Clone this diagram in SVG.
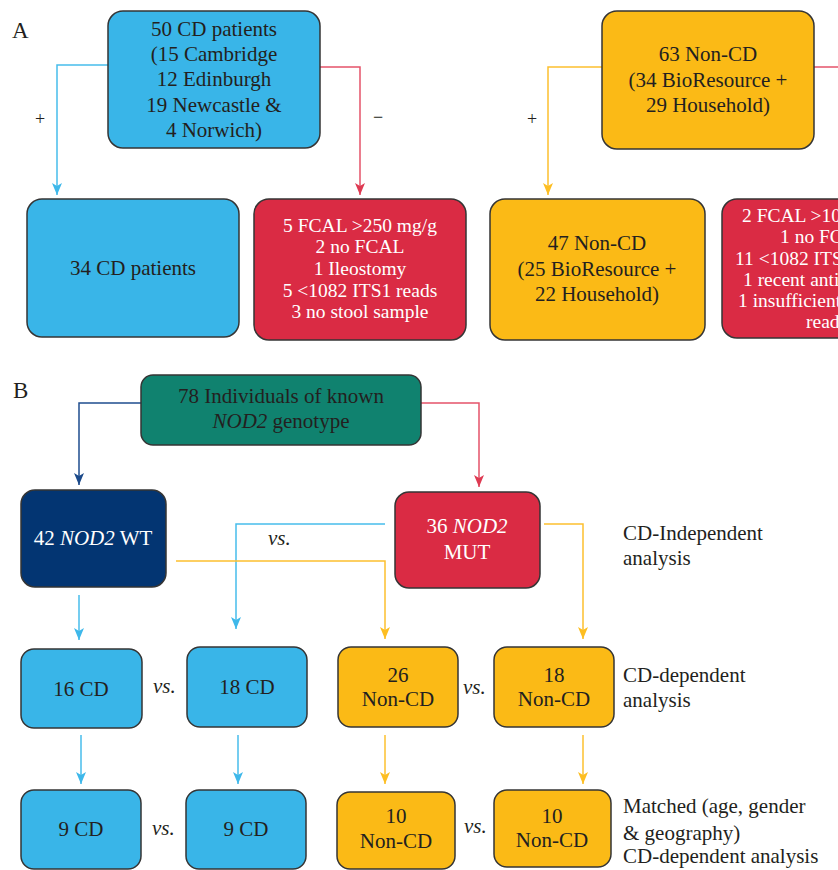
<svg xmlns="http://www.w3.org/2000/svg" width="838" height="870" viewBox="0 0 838 870">
<style>
text{font-family:"Liberation Serif","Times New Roman",serif;font-size:21px;fill:#231F20}
.c{text-anchor:middle}
.w{fill:#ffffff}
.s{font-size:19.5px}
.i{font-style:italic}
.box{stroke:#353535;stroke-width:1.5}
.cy{fill:#39B5E8}.ye{fill:#FBBA16}.rd{fill:#DA2B44}.nv{fill:#033572}.tl{fill:#10826F}
.ln{fill:none;stroke-width:1.5}
</style>
<defs>
<marker id="aC" markerUnits="userSpaceOnUse" markerWidth="12" markerHeight="10" refX="12" refY="5" orient="auto"><path d="M0,0 L12,5 L0,10 L3,5 Z" fill="#3EB8EA"/></marker>
<marker id="aR" markerUnits="userSpaceOnUse" markerWidth="12" markerHeight="10" refX="12" refY="5" orient="auto"><path d="M0,0 L12,5 L0,10 L3,5 Z" fill="#DE3A52"/></marker>
<marker id="aY" markerUnits="userSpaceOnUse" markerWidth="12" markerHeight="10" refX="12" refY="5" orient="auto"><path d="M0,0 L12,5 L0,10 L3,5 Z" fill="#FDBE22"/></marker>
<marker id="aN" markerUnits="userSpaceOnUse" markerWidth="12" markerHeight="10" refX="12" refY="5" orient="auto"><path d="M0,0 L12,5 L0,10 L3,5 Z" fill="#1B4A8A"/></marker>
</defs>
<rect width="838" height="870" fill="#ffffff"/>

<text x="12" y="38" style="font-size:23px">A</text>
<text x="13" y="398" style="font-size:23px">B</text>

<g id="connectors">
<path class="ln" stroke="#47BDEB" d="M108,65 H57 V195" marker-end="url(#aC)"/>
<path class="ln" stroke="#E5536A" d="M320,67 H360 V195" marker-end="url(#aR)"/>
<path class="ln" stroke="#FDC02F" d="M602,67 H548 V195" marker-end="url(#aY)"/>
<path class="ln" stroke="#E5536A" d="M814,67 H850"/>
<path class="ln" stroke="#1F4E8F" d="M141,403 H79 V485" marker-end="url(#aN)"/>
<path class="ln" stroke="#E5536A" d="M421,403 H479 V487" marker-end="url(#aR)"/>
<path class="ln" stroke="#47BDEB" d="M385,524 H236 V629" marker-end="url(#aC)"/>
<path class="ln" stroke="#FDC02F" d="M176,561 H385 V639" marker-end="url(#aY)"/>
<path class="ln" stroke="#FDC02F" d="M544,524 H583 V639" marker-end="url(#aY)"/>
<path class="ln" stroke="#47BDEB" d="M79,595 V640" marker-end="url(#aC)"/>
<path class="ln" stroke="#47BDEB" d="M81,735 V784" marker-end="url(#aC)"/>
<path class="ln" stroke="#47BDEB" d="M238,735 V784" marker-end="url(#aC)"/>
<path class="ln" stroke="#FDC02F" d="M385,735 V784" marker-end="url(#aY)"/>
<path class="ln" stroke="#FDC02F" d="M583,735 V784" marker-end="url(#aY)"/>
<text x="40" y="125" class="c" style="font-size:18px">+</text>
<text x="378" y="123" class="c" style="font-size:18px">−</text>
<text x="532" y="125" class="c" style="font-size:18px">+</text>
<text x="268" y="545" class="i">vs.</text>
<text x="153" y="693" class="i">vs.</text>
<text x="463" y="694" class="i">vs.</text>
<text x="152" y="835" class="i">vs.</text>
<text x="464" y="833" class="i">vs.</text>
</g>

<g id="n_cd50">
<rect class="box cy" x="108" y="11" width="212" height="137" rx="15"/>
<text class="c" x="214" y="36">50 CD patients</text>
<text class="c" x="214" y="61">(15 Cambridge</text>
<text class="c" x="214" y="86">12 Edinburgh</text>
<text class="c" x="214" y="112">19 Newcastle &amp;</text>
<text class="c" x="214" y="137">4 Norwich)</text>
</g>
<g id="n_cd34">
<rect class="box cy" x="27" y="199" width="212" height="138" rx="15"/>
<text class="c" x="133" y="275">34 CD patients</text>
</g>
<g id="n_excl_cd">
<rect class="box rd" x="254" y="199" width="212" height="141" rx="15"/>
<text class="c w s" x="360" y="232">5 FCAL &gt;250 mg/g</text>
<text class="c w s" x="360" y="253">2 no FCAL</text>
<text class="c w s" x="360" y="275">1 Ileostomy</text>
<text class="c w s" x="360" y="297">5 &lt;1082 ITS1 reads</text>
<text class="c w s" x="360" y="318">3 no stool sample</text>
</g>
<g id="n_noncd63">
<rect class="box ye" x="602" y="11" width="212" height="138" rx="15"/>
<text class="c" x="708" y="61">63 Non-CD</text>
<text class="c" x="708" y="87">(34 BioResource +</text>
<text class="c" x="708" y="112">29 Household)</text>
</g>
<g id="n_noncd47">
<rect class="box ye" x="490" y="199" width="215" height="141" rx="15"/>
<text class="c" x="597" y="250">47 Non-CD</text>
<text class="c" x="597" y="276">(25 BioResource +</text>
<text class="c" x="597" y="301">22 Household)</text>
</g>
<g id="n_excl_noncd">
<rect class="box rd" x="722" y="199" width="216" height="139" rx="15"/>
<text class="w s" x="742" y="222">2 FCAL &gt;100 mg/g</text>
<text class="w s" x="780" y="243">1 no FCAL</text>
<text class="w s" x="735" y="265">11 &lt;1082 ITS1 reads</text>
<text class="w s" x="743" y="286">1 recent antibiotics</text>
<text class="w s" x="738" y="307">1 insufficient ITS1</text>
<text class="w s" x="806" y="328">reads</text>
</g>

<g id="n_all78">
<rect class="box tl" x="141" y="375" width="280" height="70" rx="12"/>
<text class="c" x="281" y="403">78 Individuals of known</text>
<text class="c" x="281" y="428"><tspan class="i">NOD2</tspan> genotype</text>
</g>
<g id="n_wt">
<rect class="box nv" x="21" y="490" width="145" height="97" rx="14"/>
<text class="c w" x="93" y="545">42 <tspan class="i">NOD2</tspan> WT</text>
</g>
<g id="n_mut">
<rect class="box rd" x="395" y="492" width="145" height="96" rx="14"/>
<text class="c w" x="467" y="533">36 <tspan class="i">NOD2</tspan></text>
<text class="c w" x="467" y="559">MUT</text>
</g>
<text x="623" y="540">CD-Independent</text>
<text x="623" y="565">analysis</text>

<g id="n_cd16">
<rect class="box cy" x="21" y="649" width="121" height="79" rx="13"/>
<text class="c" x="81" y="696">16 CD</text>
</g>
<g id="n_cd18">
<rect class="box cy" x="187" y="647" width="120" height="80" rx="13"/>
<text class="c" x="247" y="694">18 CD</text>
</g>
<g id="n_noncd26">
<rect class="box ye" x="338" y="647" width="120" height="80" rx="13"/>
<text class="c" x="398" y="682">26</text>
<text class="c" x="398" y="706">Non-CD</text>
</g>
<g id="n_noncd18">
<rect class="box ye" x="494" y="647" width="120" height="80" rx="13"/>
<text class="c" x="554" y="682">18</text>
<text class="c" x="554" y="706">Non-CD</text>
</g>
<text x="623" y="682">CD-dependent</text>
<text x="623" y="707">analysis</text>

<g id="n_cd9a">
<rect class="box cy" x="21" y="790" width="120" height="79" rx="13"/>
<text class="c" x="81" y="836">9 CD</text>
</g>
<g id="n_cd9b">
<rect class="box cy" x="186" y="790" width="120" height="79" rx="13"/>
<text class="c" x="246" y="836">9 CD</text>
</g>
<g id="n_noncd10a">
<rect class="box ye" x="337" y="792" width="118" height="77" rx="13"/>
<text class="c" x="396" y="823">10</text>
<text class="c" x="396" y="848">Non-CD</text>
</g>
<g id="n_noncd10b">
<rect class="box ye" x="494" y="790" width="117" height="77" rx="13"/>
<text class="c" x="552" y="823">10</text>
<text class="c" x="552" y="847">Non-CD</text>
</g>
<text x="623" y="813">Matched (age, gender</text>
<text x="623" y="840">&amp; geography)</text>
<text x="623" y="863">CD-dependent analysis</text>
</svg>
